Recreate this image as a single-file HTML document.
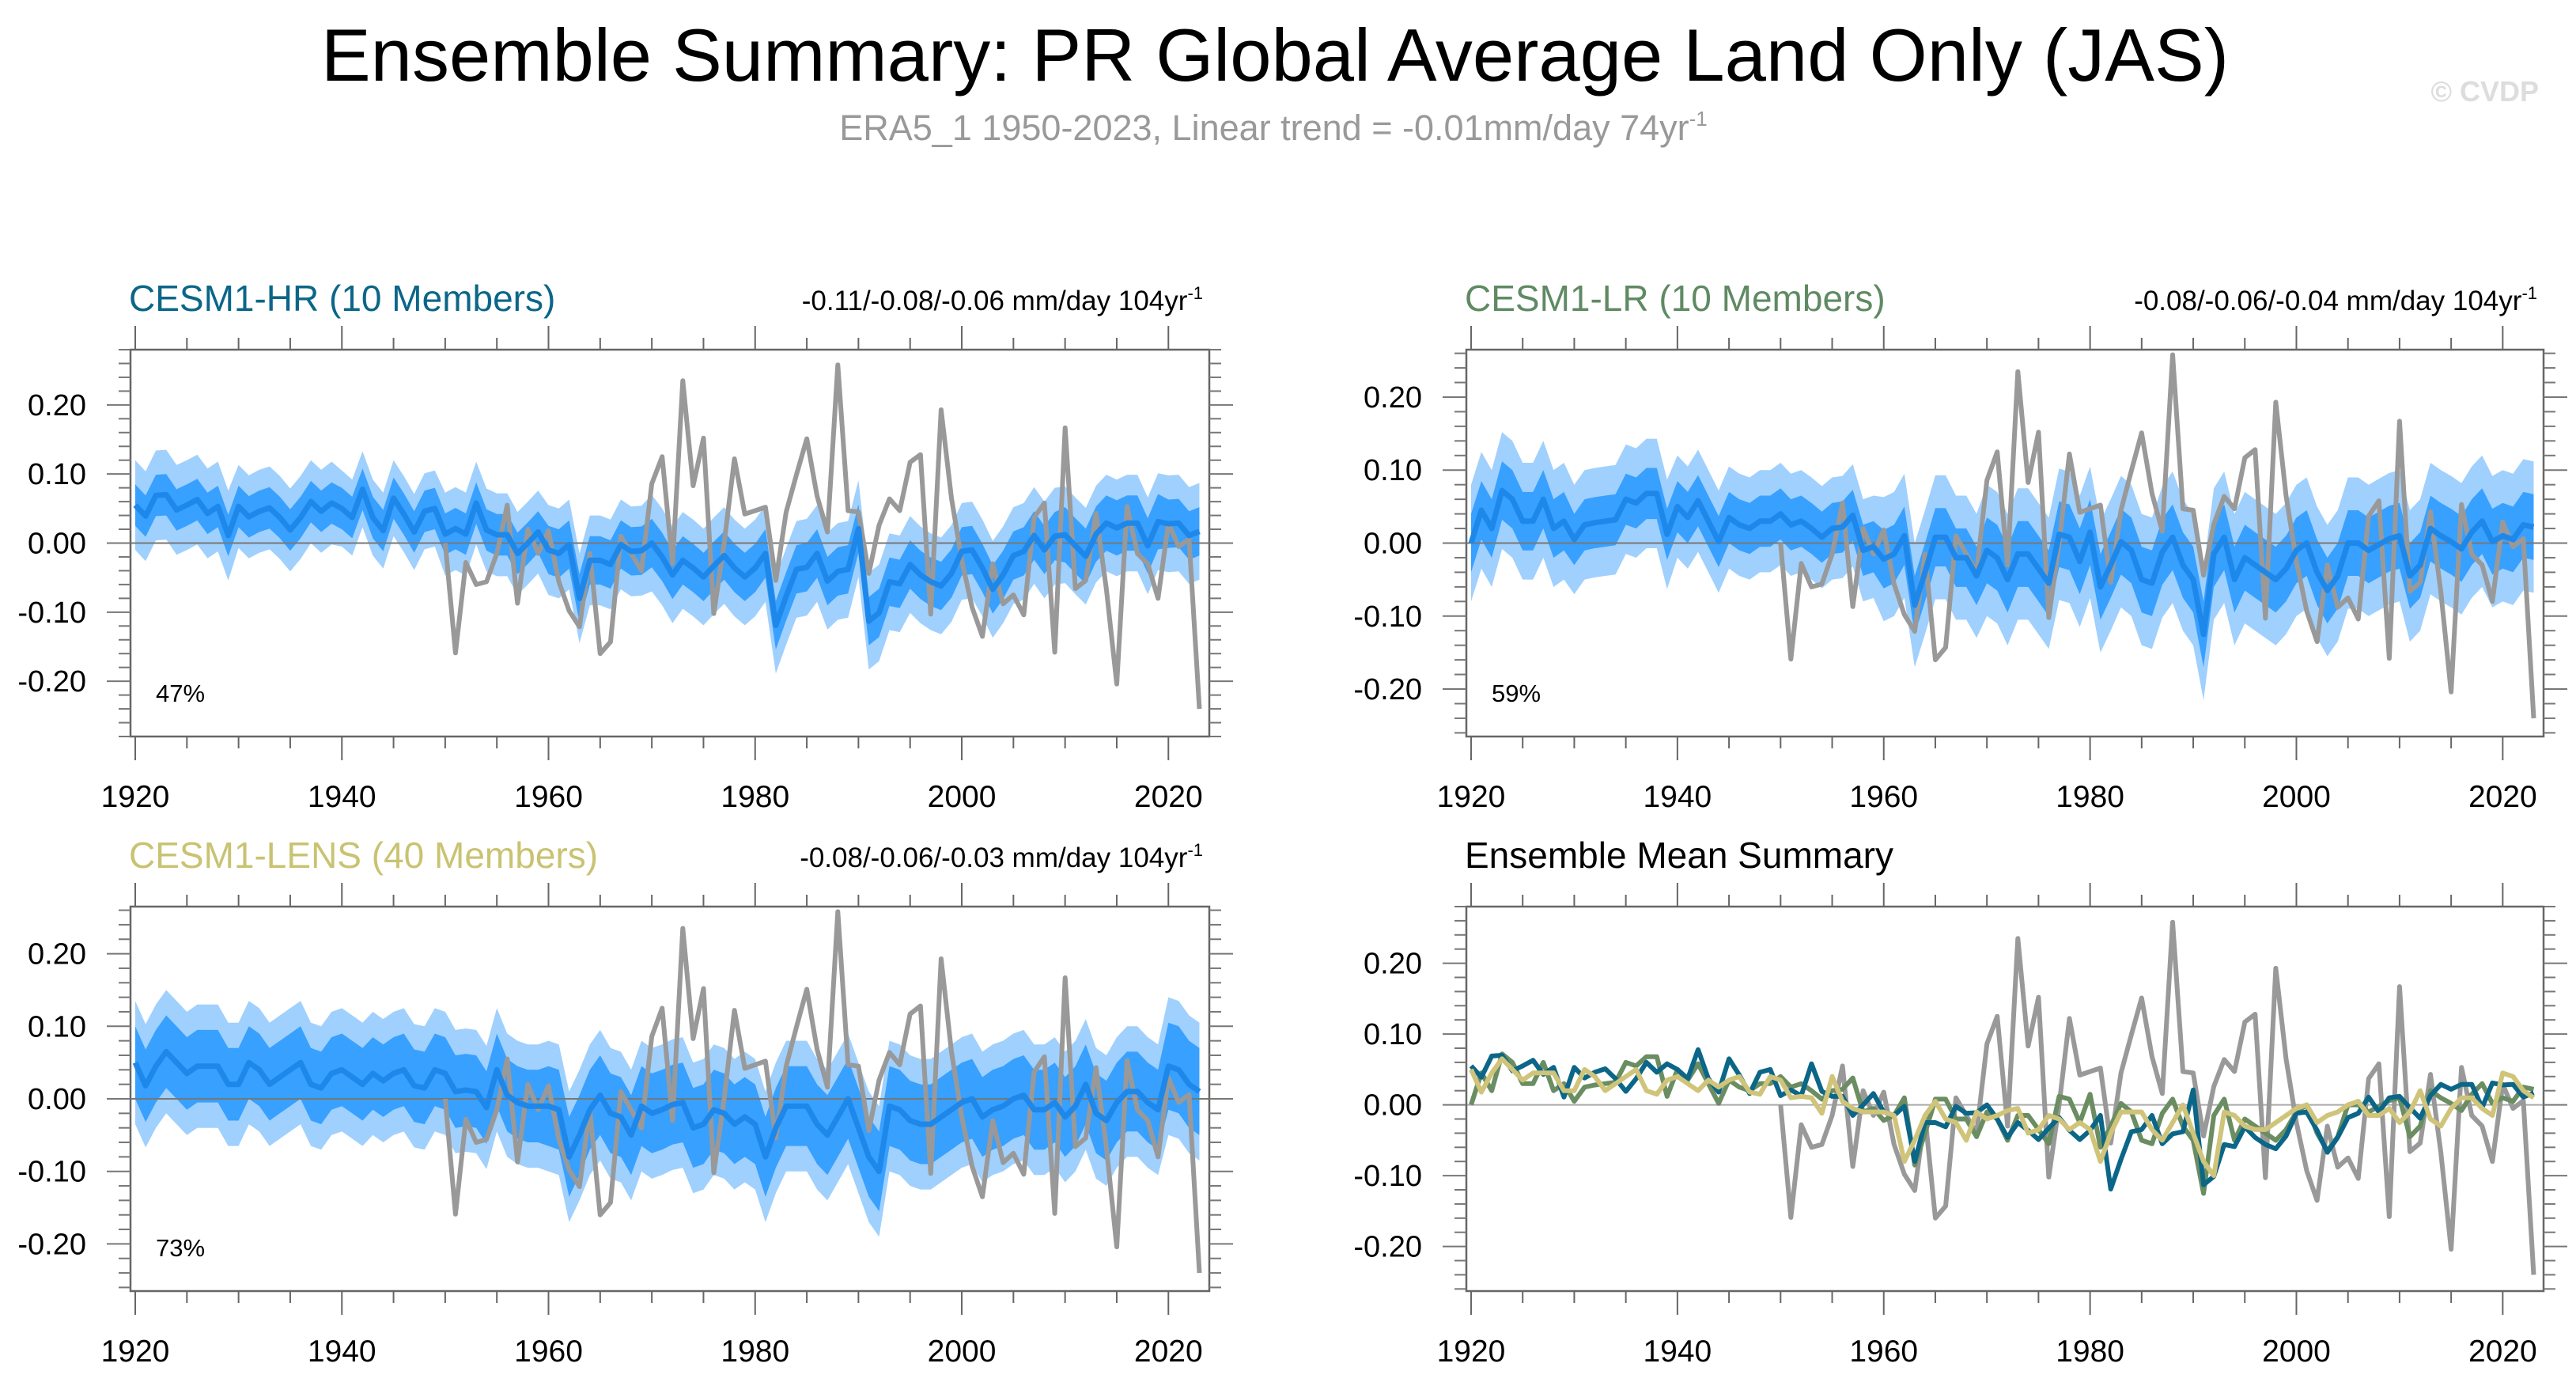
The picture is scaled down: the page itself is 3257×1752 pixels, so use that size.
<!DOCTYPE html>
<html><head><meta charset="utf-8">
<style>
html,body{margin:0;padding:0;background:#fff;}
body{width:3257px;height:1752px;overflow:hidden;position:relative;font-family:"Liberation Sans",sans-serif;}
svg{position:absolute;left:0;top:0;}
</style></head>
<body>
<svg id="chart" width="3257" height="1752" viewBox="0 0 3257 1752">
<text x="1612" y="102" font-size="94" text-anchor="middle" fill="#000">Ensemble Summary: PR Global Average Land Only (JAS)</text>
<text x="1610" y="177" font-size="45" text-anchor="middle" fill="#999">ERA5_1 1950-2023, Linear trend = -0.01mm/day 74yr<tspan dy="-18" font-size="26">-1</tspan></text>
<text x="3210" y="128" font-size="36" text-anchor="end" fill="#ddd" font-weight="bold">© CVDP</text>
<g id="panels"></g>
</svg>
<script>
const years = []; for (let y = 1920; y <= 2023; y++) years.push(y);
const obsYears = []; for (let y = 1950; y <= 2023; y++) obsYears.push(y);
const obs = [0.0,-0.159,-0.028,-0.060,-0.056,-0.015,0.055,-0.087,0.020,-0.015,0.018,-0.056,-0.098,-0.121,-0.015,-0.160,-0.143,0.010,-0.015,-0.040,0.086,0.125,-0.030,0.235,0.083,0.152,-0.102,0.0,0.122,0.042,0.047,0.052,-0.054,0.045,0.099,0.151,0.068,0.016,0.258,0.047,0.045,-0.044,0.026,0.064,0.047,0.117,0.128,-0.103,0.193,0.065,-0.025,-0.093,-0.135,-0.030,-0.088,-0.075,-0.104,0.037,0.058,-0.158,0.167,-0.066,-0.054,0.043,-0.067,-0.204,0.053,-0.015,-0.030,-0.080,0.029,-0.005,0.006,-0.240];
const hrMean = [0.055,0.039,0.069,0.070,0.048,0.055,0.063,0.043,0.053,0.011,0.053,0.038,0.046,0.051,0.037,0.019,0.037,0.060,0.046,0.058,0.050,0.037,0.078,0.037,0.018,0.065,0.042,0.016,0.046,0.050,0.013,0.021,0.013,0.058,0.019,0.012,0.012,-0.015,0.0,0.016,-0.010,-0.015,-0.002,-0.080,-0.025,-0.025,-0.031,-0.002,-0.012,-0.011,0.0,-0.020,-0.046,-0.025,-0.036,-0.049,-0.033,-0.018,-0.036,-0.049,-0.036,-0.015,-0.119,-0.077,-0.038,-0.035,-0.015,-0.055,-0.041,-0.038,0.021,-0.113,-0.101,-0.056,-0.059,-0.031,-0.046,-0.056,-0.062,-0.044,-0.012,-0.010,-0.036,-0.067,-0.046,-0.018,-0.012,0.011,-0.010,0.010,0.012,-0.004,-0.019,0.013,0.029,0.022,0.029,0.029,-0.004,0.031,0.028,0.029,0.011,0.017];
const lrMean = [0.0,0.045,0.020,0.072,0.060,0.030,0.030,0.060,0.020,0.030,0.005,0.025,0.028,0.030,0.032,0.060,0.055,0.068,0.068,0.012,0.050,0.035,0.058,0.030,0.002,0.035,0.025,0.020,0.030,0.030,0.040,0.025,0.030,0.020,0.008,0.020,0.022,0.038,-0.010,-0.005,-0.022,-0.015,0.010,-0.085,-0.040,0.008,0.008,-0.020,-0.020,-0.045,-0.010,-0.020,-0.050,-0.015,-0.015,-0.035,-0.055,0.012,0.008,-0.025,0.015,-0.060,-0.030,0.002,-0.010,-0.050,-0.055,-0.012,0.008,-0.030,-0.050,-0.125,-0.015,0.008,-0.050,-0.020,-0.030,-0.040,-0.050,-0.035,-0.010,0.0,-0.040,-0.065,-0.045,0.0,0.0,-0.010,-0.002,0.006,0.010,-0.045,-0.030,0.020,0.010,0.002,-0.008,0.015,0.030,0.002,0.010,0.005,0.025,0.022];
const lensMean = [0.050,0.018,0.045,0.065,0.050,0.035,0.045,0.045,0.045,0.020,0.020,0.050,0.040,0.020,0.030,0.040,0.050,0.020,0.015,0.035,0.040,0.030,0.020,0.035,0.025,0.035,0.040,0.018,0.015,0.040,0.035,0.010,0.012,0.010,-0.012,0.040,0.005,-0.005,-0.010,-0.010,-0.010,-0.015,-0.080,-0.050,-0.015,0.005,-0.020,-0.025,-0.050,-0.010,-0.020,-0.015,-0.008,-0.005,-0.040,-0.035,-0.015,-0.020,-0.035,-0.025,-0.035,-0.080,-0.040,-0.010,-0.010,-0.010,-0.035,-0.050,-0.025,0.0,-0.040,-0.080,-0.100,-0.010,-0.015,-0.030,-0.035,-0.035,-0.025,-0.015,-0.005,0.0,-0.025,-0.015,-0.010,0.0,0.005,-0.015,-0.015,-0.005,-0.025,-0.010,0.020,-0.020,-0.030,-0.005,0.010,0.010,-0.005,-0.015,0.045,0.040,0.020,0.010,0.005];
// band half-widths by decade (1920s..2020s)
const hrInner = [0.030,0.030,0.030,0.030,0.035,0.035,0.035,0.035,0.035,0.040,0.035];
const hrOuter = [0.065,0.060,0.055,0.060,0.065,0.070,0.070,0.070,0.070,0.070,0.070];
const lrInner = [0.040,0.035,0.035,0.035,0.040,0.045,0.045,0.045,0.045,0.045,0.045];
const lrOuter = [0.080,0.075,0.070,0.070,0.085,0.090,0.090,0.090,0.090,0.090,0.090];
const lensInner = [0.050,0.050,0.050,0.050,0.055,0.055,0.055,0.055,0.055,0.055,0.060];
const lensOuter = [0.085,0.085,0.085,0.085,0.090,0.090,0.090,0.090,0.090,0.090,0.095];
const yTicks = [-0.20,-0.10,0.00,0.10,0.20];
const yTickLabels = ["-0.20","-0.10","0.00","0.10","0.20"];
const xTicks = [1920,1940,1960,1980,2000,2020];

const NS = "http://www.w3.org/2000/svg";
const root = document.getElementById('panels');
function el(tag, attrs, parent){const e=document.createElementNS(NS,tag);for(const k in attrs)e.setAttribute(k,attrs[k]);(parent||root).appendChild(e);return e;}

const panels = [
 {name:'cesm1-hr',x0:165,x1:1529,y0:442,y1:931,ymin:-0.28,ymax:0.28,title:'CESM1-HR (10 Members)',color:'#0b6688',trend:'-0.11/-0.08/-0.06 mm/day 104yr',mean:hrMean,inner:hrInner,outer:hrOuter,pct:'47%'},
 {name:'cesm1-lr',x0:1854,x1:3216,y0:442,y1:931,ymin:-0.265,ymax:0.265,title:'CESM1-LR (10 Members)',color:'#5f8a63',trend:'-0.08/-0.06/-0.04 mm/day 104yr',mean:lrMean,inner:lrInner,outer:lrOuter,pct:'59%'},
 {name:'cesm1-lens',x0:165,x1:1529,y0:1146,y1:1632,ymin:-0.265,ymax:0.265,title:'CESM1-LENS (40 Members)',color:'#c9c372',trend:'-0.08/-0.06/-0.03 mm/day 104yr',mean:lensMean,inner:lensInner,outer:lensOuter,pct:'73%'},
 {name:'ensemble-mean-summary',x0:1854,x1:3216,y0:1146,y1:1632,ymin:-0.263,ymax:0.28,title:'Ensemble Mean Summary',color:'#000',summary:true}
];

panels.forEach(p=>{
  const g = el('g',{});
  
  
  const X = yr => p.x0 + 6 + (yr-1920)*(p.x1-p.x0-12)/103.5;
  const Y = v => p.y0 + (p.ymax-v)/(p.ymax-p.ymin)*(p.y1-p.y0);
  const line = (arr, xs, col, w) => {
    const n = Math.min(arr.length, xs.length);
    const pts = arr.slice(0,n).map((v,i)=>X(xs[i]).toFixed(1)+','+Y(v).toFixed(1)).join(' ');
    return el('polyline',{points:pts,fill:'none',stroke:col,'stroke-width':w,'stroke-linejoin':'round'},g);
  };
  const band = (arr0, hw) => {
    const arr = arr0.slice(0, years.length);
    const up = arr.map((v,i)=>X(years[i]).toFixed(1)+','+Y(v+hw[Math.min(10,Math.floor(i/10))]).toFixed(1));
    const dn = arr.map((v,i)=>X(years[i]).toFixed(1)+','+Y(v-hw[Math.min(10,Math.floor(i/10))]).toFixed(1)).reverse();
    return up.concat(dn).join(' ');
  };
  const t = el('text',{x:p.x0-2,y:p.y0-49,'font-size':46,fill:p.color},g);
  t.textContent = p.title;
  
  
  if(!p.summary){
    const tr = el('text',{x:p.x1-8,y:p.y0-50,'font-size':35,'text-anchor':'end',fill:'#000'},g);
    tr.innerHTML = p.trend+'<tspan dy="-14" font-size="22">-1</tspan>';
    
    
  }
  const box = el('rect',{x:p.x0,y:p.y0,width:p.x1-p.x0,height:p.y1-p.y0,fill:'#fff',stroke:'none'},g);
  
  
  if(!p.summary){
    const bo = el('polygon',{points:band(p.mean,p.outer),fill:'#a0d0fd'},g);
    
    
    const bi = el('polygon',{points:band(p.mean,p.inner),fill:'#38a0ff'},g);
    
    
  }
  const zl = el('line',{x1:p.x0,x2:p.x1,y1:Y(0),y2:Y(0),stroke:p.summary?'#aaa':'#777','stroke-width':2},g);
  
  
  const ob = line(obs, obsYears, '#999', 6);
  
  
  if(!p.summary){
    const ml = line(p.mean, years, '#1e88ea', 7);
    
    
    const pc = el('text',{x:p.x0+32,y:p.y1-44,'font-size':31,fill:'#000'},g);
    pc.textContent = p.pct;
    
    
  } else {
    const l1 = line(lrMean, years, '#6a8d62', 6);
    
    
    const l2 = line(hrMean, years, '#0b6688', 6);
    
    
    const l3 = line(lensMean, years, '#cfc47a', 6);
    
    
  }
  const fr = el('rect',{x:p.x0,y:p.y0,width:p.x1-p.x0,height:p.y1-p.y0,fill:'none',stroke:'#666','stroke-width':2.5},g);
  
  
  for(let yr=1920; yr<=2023; yr+=5){
    const major = yr%20===0, len = major?30:15;
    el('line',{x1:X(yr),x2:X(yr),y1:p.y1,y2:p.y1+len,stroke:'#666','stroke-width':2},g);
    el('line',{x1:X(yr),x2:X(yr),y1:p.y0,y2:p.y0-len,stroke:'#666','stroke-width':2},g);
  }
  xTicks.forEach(yr=>{
    const tx = el('text',{x:X(yr),y:p.y1+89,'font-size':39,'text-anchor':'middle',fill:'#000'},g);
    tx.textContent = yr;
    
    
  });
  for(let k=-30;k<=30;k++){
    const v=k*0.02; if(v<p.ymin-1e-9||v>p.ymax+1e-9) continue;
    const major = k%5===0, len = major?30:15;
    el('line',{x1:p.x0-len,x2:p.x0,y1:Y(v),y2:Y(v),stroke:'#777','stroke-width':2},g);
    el('line',{x1:p.x1,x2:p.x1+len,y1:Y(v),y2:Y(v),stroke:'#777','stroke-width':2},g);
  }
  yTicks.forEach((v,i)=>{
    const ty = el('text',{x:p.x0-56,y:Y(v)+13,'font-size':38,'text-anchor':'end',fill:'#000'},g);
    ty.textContent = yTickLabels[i];
    
    
  });
});
</script>
</body></html>
